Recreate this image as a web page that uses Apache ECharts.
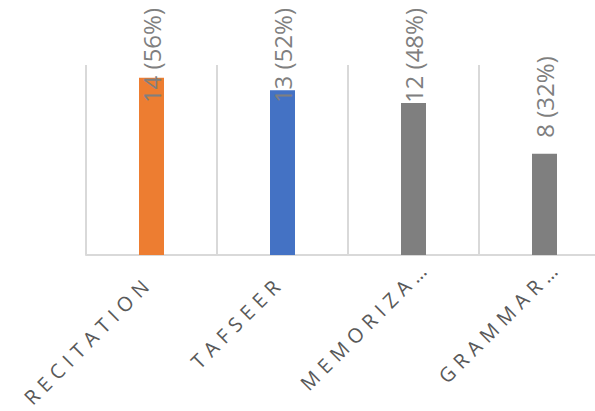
<!DOCTYPE html>
<html>
<head>
<meta charset="utf-8">
<script src="https://cdn.jsdelivr.net/npm/echarts@6/dist/echarts.min.js"></script>
<style>
  html, body { margin: 0; padding: 0; background: #ffffff; }
  #chart { width: 595px; height: 411px; }
  /* spaced capitals for the category labels */
  #chart text[fill="#595959"] { letter-spacing: 6px; }
</style>
</head>
<body>
<div id="chart"></div>
<script>
// Subjects and number of responses
var categories = ['RECITATION', 'TAFSEER', 'MEMORIZA…', 'GRAMMAR…'];
var counts = [14, 13, 12, 8];
var percents = [56, 52, 48, 32];
var barColors = ['#ed7d31', '#4472c4', '#7f7f7f', '#7f7f7f'];

var chart = echarts.init(document.getElementById('chart'), null, { renderer: 'svg' });

var seriesData = counts.map(function (v, i) {
  return { value: v, itemStyle: { color: barColors[i] } };
});

// shortened names let their ellipsis run past the usual end point
var axisData = categories.map(function (c) {
  var clipped = c.charAt(c.length - 1) === '…';
  return { value: c, textStyle: { padding: [13, clipped ? -19 : 3, 0, 0] } };
});

chart.setOption({
  animation: false,
  backgroundColor: '#ffffff',
  grid: { left: 86, top: 65, width: 524, height: 190, outerBoundsMode: 'none', containLabel: false },
  xAxis: {
    type: 'category',
    data: axisData,
    boundaryGap: true,
    axisLine: { show: true, lineStyle: { color: '#d9d9d9', width: 2 } },
    axisTick: { show: false },
    splitLine: { show: true, interval: 0, lineStyle: { color: '#d9d9d9', width: 2 } },
    axisLabel: {
      interval: 0,
      rotate: 45,
      margin: 22,
      verticalAlign: 'top',
      lineHeight: 20,
      color: '#595959',
      fontFamily: 'Open Sans',
      fontSize: 20
    }
  },
  yAxis: {
    type: 'value',
    min: 0,
    max: 15,
    show: false,
    splitLine: { show: false }
  },
  series: [{
    type: 'bar',
    data: seriesData,
    barWidth: 25,
    label: {
      show: true,
      position: 'top',
      distance: 16,
      rotate: 90,
      align: 'left',
      verticalAlign: 'middle',
      color: '#7f7f7f',
      fontFamily: 'Open Sans',
      fontSize: 24,
      formatter: function (p) {
        return counts[p.dataIndex] + ' (' + percents[p.dataIndex] + '%)';
      }
    },
    // keep labels inside the top edge of the chart; the label is turned
    // a quarter turn, so its own x runs upward on the page
    labelLayout: function (p) {
      var r = p.labelRect;
      var topLimit = 8;
      if (r.y < topLimit) {
        return { dx: -(topLimit - r.y) };
      }
      return {};
    }
  }]
});
</script>
</body>
</html>
